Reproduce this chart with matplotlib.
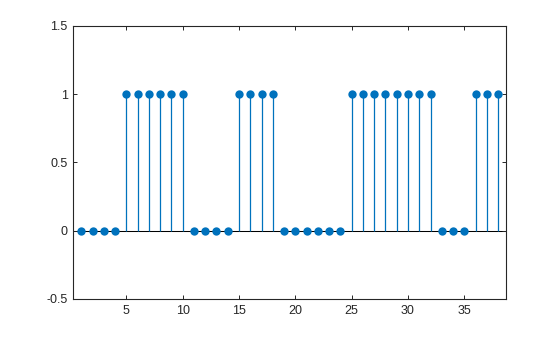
import numpy as np
import matplotlib.pyplot as plt

# datos de la señal (0/1) para n = 1..38
n = np.arange(1, 39)
valores = [0, 0, 0, 0, 1, 1, 1, 1, 1, 1,
           0, 0, 0, 0, 1, 1, 1, 1,
           0, 0, 0, 0, 0, 0,
           1, 1, 1, 1, 1, 1, 1, 1,
           0, 0, 0, 1, 1, 1]
xticks = [5, 10, 15, 20, 25, 30, 35]
yticks = [-0.5, 0, 0.5, 1, 1.5]
yticklabels = ['-0.5', '0', '0.5', '1', '1.5']

azul = '#0072BD'
gris = '#262626'

plt.rcParams['font.family'] = ['Liberation Sans', 'DejaVu Sans']

fig = plt.figure(figsize=(5.6, 3.37), dpi=100)
ax = fig.add_axes([0.131, 0.1128, 0.9036 - 0.131, 0.9237 - 0.1128])

# linea base de la gráfica de tallos
ax.axhline(0, color='black', linewidth=0.75, zorder=1)

markerline, stemlines, baseline = ax.stem(n, valores, linefmt='-', markerfmt='o', basefmt=' ')
plt.setp(stemlines, color=azul, linewidth=0.9)
plt.setp(markerline, color=azul, markersize=6, markeredgewidth=0)

ax.set_xlim(0.3, 38.7)
ax.set_ylim(-0.5, 1.5)
ax.set_xticks(xticks)
ax.set_yticks(yticks, yticklabels)

for s in ax.spines.values():
    s.set_color(gris)
    s.set_linewidth(0.8)

ax.tick_params(direction='in', length=3, width=0.7, colors=gris,
               labelsize=9, top=True, right=True, pad=4)

plt.savefig('out.png', dpi=100)
